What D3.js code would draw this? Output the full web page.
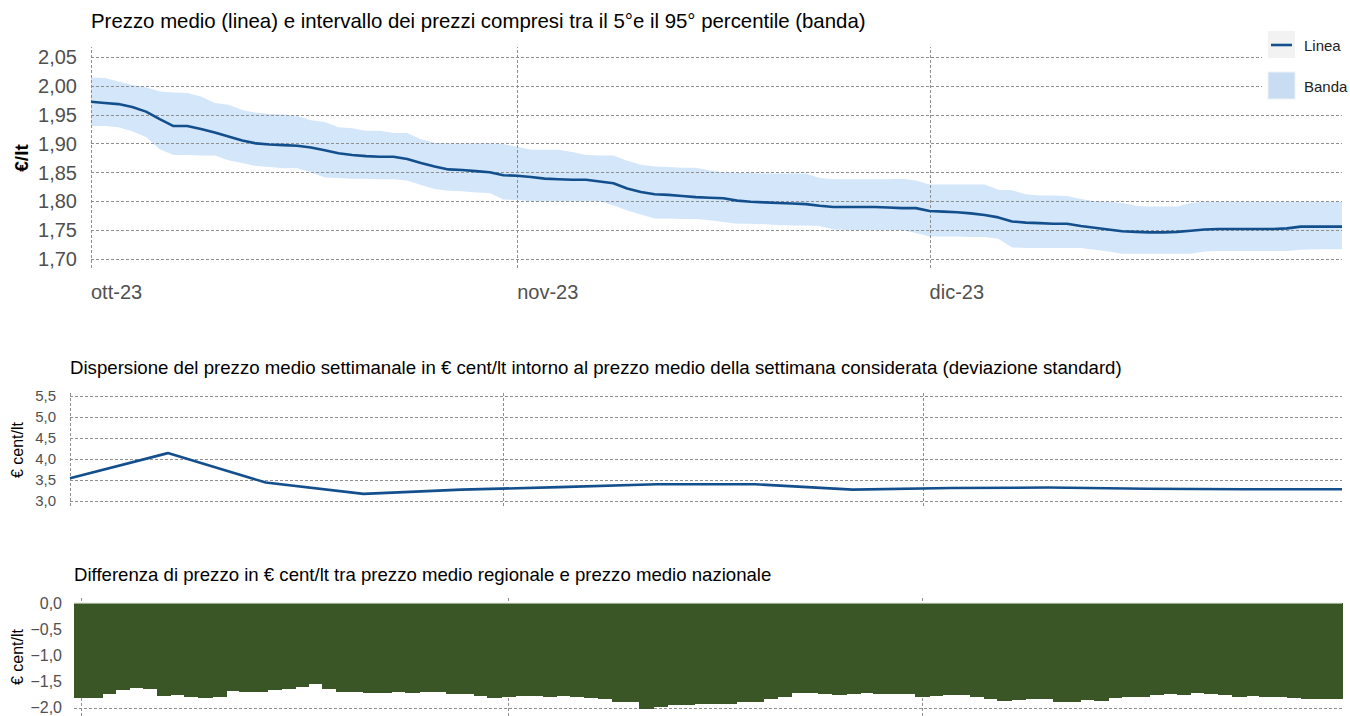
<!DOCTYPE html>
<html>
<head>
<meta charset="utf-8">
<script src="https://cdn.jsdelivr.net/npm/d3@7"></script>
<style>
  body { margin: 0; background: #fff; }
  svg { display: block; font-family: "Liberation Sans", Arial, sans-serif; }
  .grid line { stroke: #8f8f8f; stroke-width: 1; stroke-dasharray: 3,2; shape-rendering: crispEdges; }
  .grid path { display: none; }
  .tick-lbl { fill: #505050; }
</style>
</head>
<body>
<svg id="chart" width="1350" height="716"></svg>
<script>
// ---- data ----
var startDay = new Date(2023, 9, 1);
var monthTicks = [new Date(2023, 9, 1), new Date(2023, 10, 1), new Date(2023, 11, 1)];
var monthLabels = ["ott-23", "nov-23", "dic-23"];

// daily average price, 1 Oct - 31 Dec 2023 (€/lt)
var prezzoMedio = [1.972, 1.970, 1.968, 1.963, 1.955, 1.942, 1.930, 1.930, 1.925, 1.919,
  1.912, 1.905, 1.900, 1.898, 1.897, 1.896, 1.893, 1.888, 1.883, 1.880,
  1.878, 1.877, 1.877, 1.873, 1.866, 1.860, 1.855, 1.854, 1.852, 1.850,
  1.845, 1.844, 1.842, 1.839, 1.838, 1.837, 1.837, 1.834, 1.831, 1.822,
  1.816, 1.812, 1.811, 1.809, 1.807, 1.806, 1.805, 1.801, 1.799, 1.798,
  1.797, 1.796, 1.795, 1.792, 1.790, 1.790, 1.790, 1.790, 1.789, 1.788,
  1.788, 1.783, 1.782, 1.781, 1.779, 1.776, 1.772, 1.765, 1.763, 1.762,
  1.761, 1.761, 1.757, 1.754, 1.751, 1.748, 1.747, 1.746, 1.746, 1.747,
  1.749, 1.751, 1.752, 1.752, 1.752, 1.752, 1.752, 1.753, 1.756, 1.756,
  1.756, 1.756];
// 95th percentile
var bandaAlta = [2.014, 2.013, 2.007, 2.001, 1.997, 1.990, 1.988, 1.987, 1.981, 1.970,
  1.967, 1.958, 1.953, 1.951, 1.950, 1.948, 1.940, 1.937, 1.928, 1.926,
  1.922, 1.922, 1.918, 1.918, 1.907, 1.901, 1.900, 1.900, 1.900, 1.900,
  1.899, 1.894, 1.889, 1.889, 1.889, 1.885, 1.880, 1.879, 1.879, 1.870,
  1.863, 1.860, 1.859, 1.858, 1.858, 1.853, 1.850, 1.849, 1.849, 1.848,
  1.848, 1.848, 1.848, 1.840, 1.838, 1.838, 1.838, 1.838, 1.838, 1.839,
  1.836, 1.829, 1.829, 1.829, 1.829, 1.829, 1.820, 1.819, 1.812, 1.810,
  1.810, 1.809, 1.804, 1.800, 1.799, 1.797, 1.792, 1.791, 1.791, 1.791,
  1.797, 1.799, 1.799, 1.799, 1.799, 1.799, 1.799, 1.799, 1.799, 1.799,
  1.799, 1.799];
// 5th percentile
var bandaBassa = [1.930, 1.930, 1.928, 1.921, 1.911, 1.890, 1.880, 1.880, 1.879, 1.879,
  1.871, 1.866, 1.861, 1.859, 1.857, 1.857, 1.850, 1.841, 1.840, 1.839,
  1.839, 1.838, 1.838, 1.836, 1.828, 1.821, 1.818, 1.817, 1.815, 1.814,
  1.803, 1.802, 1.800, 1.800, 1.800, 1.800, 1.800, 1.800, 1.793, 1.784,
  1.777, 1.770, 1.770, 1.769, 1.769, 1.767, 1.764, 1.761, 1.761, 1.760,
  1.759, 1.758, 1.758, 1.757, 1.751, 1.750, 1.750, 1.750, 1.750, 1.750,
  1.745, 1.739, 1.739, 1.739, 1.738, 1.738, 1.735, 1.720, 1.719, 1.719,
  1.719, 1.719, 1.719, 1.716, 1.713, 1.709, 1.709, 1.709, 1.709, 1.709,
  1.709, 1.713, 1.714, 1.714, 1.714, 1.714, 1.714, 1.714, 1.716, 1.717,
  1.717, 1.717];
var prezzoTicks = [1.70, 1.75, 1.80, 1.85, 1.90, 1.95, 2.00, 2.05];

// weekly standard deviation (€ cent/lt), one value every 7 days
var settimane = [0, 7, 14, 21, 28, 35, 42, 49, 56, 63, 70, 77, 84, 91];
var deviazione = [3.54, 4.14, 3.44, 3.17, 3.27, 3.33, 3.40, 3.40, 3.27, 3.31, 3.32, 3.29, 3.28, 3.28];
var devTicks = [3.0, 3.5, 4.0, 4.5, 5.0, 5.5];

// daily regional - national difference (€ cent/lt)
var differenza = [-1.82, -1.81, -1.74, -1.66, -1.62, -1.64, -1.77, -1.76, -1.79, -1.82,
  -1.80, -1.68, -1.70, -1.69, -1.67, -1.65, -1.60, -1.55, -1.65, -1.70,
  -1.70, -1.71, -1.71, -1.69, -1.71, -1.69, -1.70, -1.73, -1.74, -1.77,
  -1.81, -1.80, -1.78, -1.78, -1.79, -1.78, -1.79, -1.82, -1.84, -1.89,
  -1.90, -2.02, -1.99, -1.95, -1.95, -1.92, -1.92, -1.92, -1.90, -1.90,
  -1.84, -1.80, -1.72, -1.72, -1.74, -1.75, -1.74, -1.71, -1.74, -1.73,
  -1.74, -1.79, -1.78, -1.76, -1.76, -1.79, -1.84, -1.88, -1.85, -1.84,
  -1.84, -1.89, -1.89, -1.85, -1.87, -1.81, -1.80, -1.80, -1.75, -1.74,
  -1.76, -1.71, -1.74, -1.76, -1.79, -1.78, -1.79, -1.79, -1.81, -1.83,
  -1.83, -1.83];
var diffTicks = [-2.0, -1.5, -1.0, -0.5, 0.0];

var legendLabels = ["Linea", "Banda"];

var colLine = "#134f8d";
var colBand = "#d3e6fa";
var colBar = "#3a5626";

function dayOf(i) { return d3.timeDay.offset(startDay, i); }
var fmt = d3.formatLocale({decimal: ",", thousands: ".", grouping: [3], currency: ["€", ""]});
var f2 = fmt.format(".2f"), f1 = fmt.format(".1f");

var svg = d3.select("#chart");

// ================= top chart =================
var x1 = d3.scaleTime().domain([startDay, dayOf(91)]).range([91, 1342]);
var y1 = d3.scaleLinear().domain([1.70, 2.05]).range([259, 56.7]);

var topG = svg.append("g");
var daily = prezzoMedio.map(function(v, i) {
  return {d: dayOf(i), m: v, hi: bandaAlta[i], lo: bandaBassa[i]};
});

topG.append("path").datum(daily)
  .attr("fill", colBand)
  .attr("d", d3.area().x(function(d) { return x1(d.d); })
    .y0(function(d) { return y1(d.lo); }).y1(function(d) { return y1(d.hi); }));

topG.append("g").attr("class", "grid")
  .attr("transform", "translate(91,0)")
  .call(d3.axisLeft(y1).tickValues(prezzoTicks).tickSize(-1251).tickFormat(""));
topG.append("g").attr("class", "grid")
  .attr("transform", "translate(0,268)")
  .call(d3.axisBottom(x1).tickValues(monthTicks).tickSize(-221).tickFormat(""));

topG.append("path").datum(daily)
  .attr("fill", "none").attr("stroke", colLine).attr("stroke-width", 2.6)
  .attr("stroke-linejoin", "round")
  .attr("d", d3.line().x(function(d) { return x1(d.d); }).y(function(d) { return y1(d.m); }));

topG.selectAll(".ylab").data(prezzoTicks).enter().append("text")
  .attr("class", "tick-lbl")
  .attr("x", 77).attr("y", function(d) { return y1(d); }).attr("dy", "0.36em")
  .attr("text-anchor", "end").attr("font-size", 20)
  .text(function(d) { return f2(d); });
topG.selectAll(".xlab").data(monthTicks).enter().append("text")
  .attr("class", "tick-lbl")
  .attr("x", function(d) { return x1(d); }).attr("y", 299)
  .attr("font-size", 20)
  .text(function(d, i) { return monthLabels[i]; });
topG.append("text")
  .attr("transform", "translate(28,158) rotate(-90)")
  .attr("text-anchor", "middle").attr("font-size", 19).attr("font-weight", "bold")
  .text("€/lt");
topG.append("text").attr("x", 91).attr("y", 28).attr("font-size", 20.4)
  .text("Prezzo medio (linea) e intervallo dei prezzi compresi tra il 5°e il 95° percentile (banda)");

// legend
var leg = topG.append("g");
leg.append("rect").attr("x", 1262).attr("y", 26).attr("width", 88).attr("height", 80).attr("fill", "#fff");
leg.append("rect").attr("x", 1268).attr("y", 31).attr("width", 27).attr("height", 27).attr("fill", "#f2f2f2");
leg.append("line").attr("x1", 1271).attr("x2", 1292).attr("y1", 45).attr("y2", 45)
  .attr("stroke", colLine).attr("stroke-width", 2.6);
leg.append("rect").attr("x", 1268).attr("y", 72).attr("width", 27).attr("height", 27)
  .attr("fill", "#c8dcf2").attr("stroke", "#eef3f9").attr("stroke-width", 1);
leg.selectAll(".lt").data(legendLabels).enter().append("text")
  .attr("x", 1304).attr("y", function(d, i) { return 46 + i * 41; }).attr("dy", "0.36em")
  .attr("font-size", 15).attr("fill", "#222")
  .text(function(d) { return d; });

// ================= middle chart =================
var x2 = d3.scaleTime().domain([startDay, dayOf(91)]).range([70, 1342]);
var y2 = d3.scaleLinear().domain([3.0, 5.5]).range([501, 396]);
var mid = svg.append("g");

mid.append("g").attr("class", "grid")
  .attr("transform", "translate(70,0)")
  .call(d3.axisLeft(y2).tickValues(devTicks).tickSize(-1272).tickFormat(""));
mid.append("g").attr("class", "grid")
  .attr("transform", "translate(0,506)")
  .call(d3.axisBottom(x2).tickValues(monthTicks).tickSize(-115).tickFormat(""));

mid.append("path").datum(settimane)
  .attr("fill", "none").attr("stroke", colLine).attr("stroke-width", 2.6)
  .attr("stroke-linejoin", "round")
  .attr("d", d3.line().x(function(d) { return x2(dayOf(d)); })
    .y(function(d, i) { return y2(deviazione[i]); }));

mid.selectAll(".ylab").data(devTicks).enter().append("text")
  .attr("class", "tick-lbl")
  .attr("x", 56).attr("y", function(d) { return y2(d); }).attr("dy", "0.36em")
  .attr("text-anchor", "end").attr("font-size", 15)
  .text(function(d) { return f1(d); });
mid.append("text")
  .attr("transform", "translate(23,450) rotate(-90)")
  .attr("text-anchor", "middle").attr("font-size", 16)
  .text("€ cent/lt");
mid.append("text").attr("x", 70).attr("y", 374).attr("font-size", 18.65)
  .text("Dispersione del prezzo medio settimanale in € cent/lt intorno al prezzo medio della settimana considerata (deviazione standard)");

// ================= bottom chart =================
var x3 = d3.scaleBand().domain(differenza.map(function(d, i) { return i; }))
  .range([74, 1342]).padding(0);
var x3t = d3.scaleTime().domain([startDay, dayOf(92)]).range([74, 1342]);
var y3 = d3.scaleLinear().domain([-2.0, 0]).range([707.7, 603.3]);
var bot = svg.append("g");

bot.append("g").attr("class", "grid")
  .attr("transform", "translate(74,0)")
  .call(d3.axisLeft(y3).tickValues(diffTicks).tickSize(-1268).tickFormat(""));
bot.append("g").attr("class", "grid")
  .attr("transform", "translate(0,716)")
  .call(d3.axisBottom(x3t).tickValues(monthTicks.map(function(d) { return d3.timeHour.offset(d, 12); }))
    .tickSize(-118).tickFormat(""));

bot.selectAll(".bar").data(differenza).enter().append("rect")
  .attr("x", function(d, i) { return x3(i); })
  .attr("width", x3.bandwidth() + 1)
  .attr("y", y3(0))
  .attr("height", function(d) { return y3(d) - y3(0); })
  .attr("fill", colBar)
  .attr("shape-rendering", "crispEdges");
bot.append("line").attr("x1", 74).attr("x2", 1342).attr("y1", y3(0)).attr("y2", y3(0))
  .attr("stroke", "#b9c2b0").attr("stroke-width", 1);

bot.selectAll(".ylab").data(diffTicks).enter().append("text")
  .attr("class", "tick-lbl")
  .attr("x", 62).attr("y", function(d) { return y3(d); }).attr("dy", "0.36em")
  .attr("text-anchor", "end").attr("font-size", 16)
  .text(function(d) { return f1(d); });
bot.append("text")
  .attr("transform", "translate(23,657) rotate(-90)")
  .attr("text-anchor", "middle").attr("font-size", 16)
  .text("€ cent/lt");
bot.append("text").attr("x", 74).attr("y", 581).attr("font-size", 18.6)
  .text("Differenza di prezzo in € cent/lt tra prezzo medio regionale e prezzo medio nazionale");
</script>
</body>
</html>
